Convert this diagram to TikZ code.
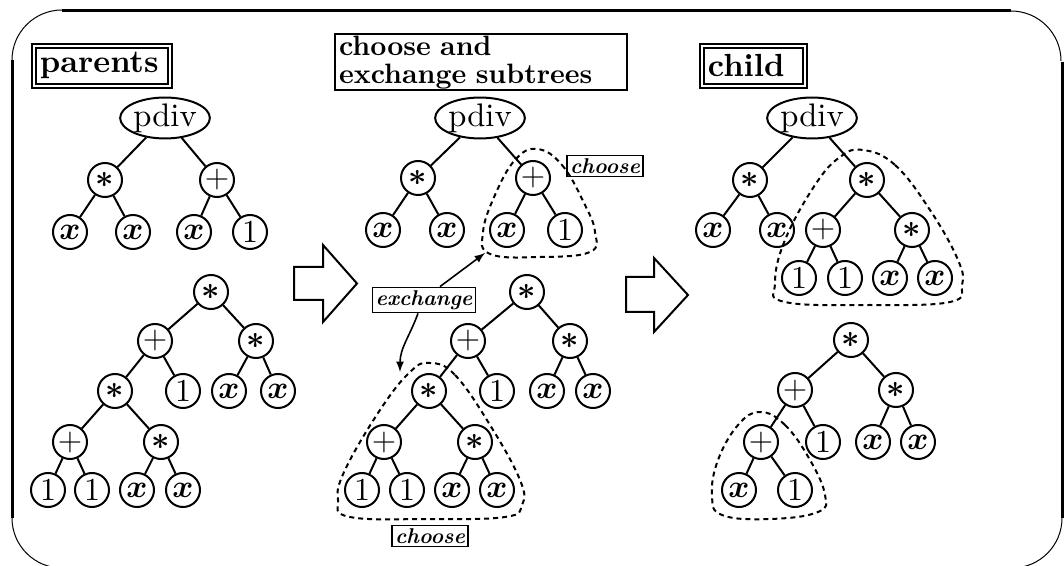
\RequirePackage{fix-cm}
\documentclass[tikz,border=0pt]{standalone}
\usepackage{bm}
\usepackage{fontspec}
\setmainfont{lmroman10-regular.otf}[BoldFont=lmroman10-bold.otf,ItalicFont=lmroman10-italic.otf,
  BoldItalicFont=lmroman10-bolditalic.otf]
\usetikzlibrary{shapes.geometric}

\newcommand\opmul{$\bm{\ast}$}
\newcommand\opadd{$+$}
\newcommand\varx{$\bm{x}$}

\tikzset{
  op/.style={circle,draw,line width=1pt,minimum size=17pt,inner sep=0pt,font=\fontsize{16}{16}\selectfont},
  fn/.style={ellipse,draw,line width=1pt,minimum width=40pt,minimum height=18.5pt,inner sep=0pt,font=\fontsize{16.3}{16}\selectfont},
  headbox/.style={draw,double,line width=0.9pt,double distance=1.1pt,anchor=north west,align=left,
    inner xsep=3pt,inner ysep=0pt,minimum height=20pt,font=\bfseries\fontsize{16}{14}\selectfont},
  note/.style={draw,line width=0.8pt,inner sep=1.5pt,font=\bfseries\itshape\fontsize{10.7}{10.7}\selectfont},
  blob/.style={line width=1pt,dash pattern=on 2.5pt off 2pt},
  fat/.style={line width=1pt,line join=miter}
}

\begin{document}
\begin{tikzpicture}[x=0.5pt,y=-0.5pt]
\useasboundingbox (0,0) rectangle (1064,566);

% frame: heavy sides, thin corners
\draw[line width=1.5pt] (62,11) -- (1011,11) (12,60) -- (12,518) (1062,62) -- (1062,518);
\draw[line width=0.5pt] (12,60) arc[start angle=180,end angle=90,radius=25pt]
                        (1011,11) arc[start angle=90,end angle=0,radius=25pt]
                        (12,518) arc[start angle=180,end angle=270,radius=25pt]
                        (1062,518) arc[start angle=0,end angle=-90,radius=25pt];

% headings
\node[headbox,text width=62pt] (parents) at (33,45) {parents};
\node[draw,line width=1pt,anchor=north west,align=left,text width=142pt,inner xsep=2pt,inner ysep=0.8pt,
      font=\bfseries\fontsize{14}{14}\selectfont] (task) at (334,33) {choose and\\exchange subtrees};
\node[headbox,text width=45.5pt] (child) at (701,45) {child};

% parent 1
\node[fn] (a) at (165,118) {pdiv};
\node[op] (a1) at (105,180) {\opmul};   \node[op] (a2) at (217,180) {\opadd};
\node[op] (a11) at (70,232) {\varx};    \node[op] (a12) at (133,232) {\varx};
\node[op] (a21) at (194,232) {\varx};   \node[op] (a22) at (250,232) {1};

% parent 2
\node[op] (b) at (211,292) {\opmul};
\node[op] (b1) at (155,341) {\opadd};   \node[op] (b2) at (256,341) {\opmul};
\node[op] (b11) at (115,391) {\opmul};  \node[op] (b12) at (183,391) {1};
\node[op] (b21) at (229,391) {\varx};   \node[op] (b22) at (278,391) {\varx};
\node[op] (b111) at (70,442) {\opadd};  \node[op] (b112) at (161,442) {\opmul};
\node[op] (b1111) at (48,490) {1};      \node[op] (b1112) at (92,490) {1};
\node[op] (b1121) at (137,490) {\varx}; \node[op] (b1122) at (183,490) {\varx};

% middle column, same two parents
\node[fn] (c) at (480,118) {pdiv};
\node[op] (c1) at (418,178) {\opmul};   \node[op] (c2) at (533,178) {\opadd};
\node[op] (c11) at (383,230) {\varx};   \node[op] (c12) at (447,230) {\varx};
\node[op] (c21) at (507,230) {\varx};   \node[op] (c22) at (565,230) {1};

\node[op] (d) at (527,292) {\opmul};
\node[op] (d1) at (468,341) {\opadd};   \node[op] (d2) at (570,341) {\opmul};
\node[op] (d11) at (429,391) {\opmul};  \node[op] (d12) at (497,391) {1};
\node[op] (d21) at (547,391) {\varx};   \node[op] (d22) at (593,391) {\varx};
\node[op] (d111) at (384,442) {\opadd}; \node[op] (d112) at (475,442) {\opmul};
\node[op] (d1111) at (362,490) {1};     \node[op] (d1112) at (407,490) {1};
\node[op] (d1121) at (452,490) {\varx}; \node[op] (d1122) at (497,490) {\varx};

% children
\node[fn] (e) at (812,118) {pdiv};
\node[op] (e1) at (750,180) {\opmul};   \node[op] (e2) at (867,180) {\opmul};
\node[op] (e11) at (713,230) {\varx};   \node[op] (e12) at (777,230) {\varx};
\node[op] (e21) at (823,230) {\opadd};  \node[op] (e22) at (912,230) {\opmul};
\node[op] (e211) at (799,278) {1};      \node[op] (e212) at (845,278) {1};
\node[op] (e221) at (890,278) {\varx};  \node[op] (e222) at (935,278) {\varx};

\node[op] (f) at (851,340) {\opmul};
\node[op] (f1) at (795,390) {\opadd};   \node[op] (f2) at (896,390) {\opmul};
\node[op] (f11) at (761,442) {\opadd};  \node[op] (f12) at (823,442) {1};
\node[op] (f21) at (873,442) {\varx};   \node[op] (f22) at (918,442) {\varx};
\node[op] (f111) at (739,490) {\varx};  \node[op] (f112) at (795,490) {1};

% edges
\foreach \t in {a,c}
  \foreach \u/\v in {/1,/2,1/11,1/12,2/21,2/22} \draw[fat] (\t\u) -- (\t\v);
\foreach \t in {b,d}
  \foreach \u/\v in {/1,/2,1/11,1/12,2/21,2/22,11/111,11/112,111/1111,111/1112,112/1121,112/1122}
    \draw[fat] (\t\u) -- (\t\v);
\foreach \u/\v in {/1,/2,1/11,1/12,2/21,2/22,21/211,21/212,22/221,22/222} \draw[fat] (e\u) -- (e\v);
\foreach \u/\v in {/1,/2,1/11,1/12,2/21,2/22,11/111,11/112} \draw[fat] (f\u) -- (f\v);

% chosen subtrees
\draw[blob] plot[smooth cycle,tension=0.7] coordinates {(537,149) (562,165) (585,205) (595,232) (590,252)
  (540,257) (490,254) (483,232) (495,195) (515,160)};
\draw[blob] plot[smooth cycle,tension=0.7] coordinates {(430,363) (455,375) (490,425) (520,480) (522,505)
  (505,517) (430,519) (350,517) (338,500) (345,470) (380,410) (410,372)};
\draw[blob] plot[smooth cycle,tension=0.7] coordinates {(863,150) (895,165) (930,210) (958,260) (962,285)
  (950,302) (870,305) (785,302) (775,283) (785,240) (815,185) (840,157)};
\draw[blob] plot[smooth cycle,tension=0.7] coordinates {(760,412) (785,425) (810,460) (825,495) (818,512)
  (770,519) (722,515) (712,495) (718,460) (738,425)};

\node[note] (pick1) at (605,166) {choose};
\node[note] (pick2) at (430,536) {choose};
\node[note] (swap) at (424,300) {exchange};

\coordinate (hit1) at (485,253);
\coordinate (hit2) at (400,372);
\draw[-latex,line width=0.8pt] ([xshift=8pt]swap.north) -- (hit1);
\draw[-latex,line width=0.8pt] ([xshift=-3pt]swap.south) to[out=250,in=90] (hit2);

% block arrows
\draw[fat] (294,267) -- (323,267) -- (323,245) -- (357,283.5) -- (323,322) -- (323,300) -- (294,300) -- cycle;
\draw[fat] (626,277) -- (654,277) -- (654,258) -- (688,295) -- (654,332) -- (654,312) -- (626,312) -- cycle;
\end{tikzpicture}
\end{document}
